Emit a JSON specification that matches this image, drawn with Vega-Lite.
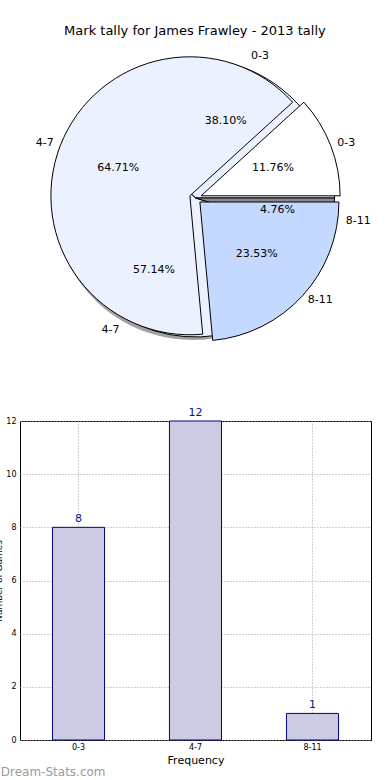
{
  "$schema": "https://vega.github.io/schema/vega-lite/v6.json",
  "padding": {"left": -6, "top": 25, "right": 0, "bottom": 0},
  "config": {
    "font": "DejaVu Sans",
    "view": {"stroke": "black"},
    "title": {"font": "DejaVu Sans", "fontWeight": "normal", "color": "black"}
  },
  "title": {"text": "Mark tally for James Frawley - 2013 tally", "fontSize": 13, "anchor": "middle", "offset": 12, "dx": 12},
  "datasets": {
    "back": [
      {"label": "0-3", "pct": 38.10, "pctText": "38.10%", "idx": 0},
      {"label": "4-7", "pct": 57.14, "pctText": "57.14%", "idx": 1},
      {"label": "8-11", "pct": 4.76, "pctText": "4.76%", "idx": 2}
    ],
    "front": [
      {"label": "0-3", "pct": 11.76, "pctText": "11.76%", "idx": 0},
      {"label": "4-7", "pct": 64.71, "pctText": "64.71%", "idx": 1},
      {"label": "8-11", "pct": 23.53, "pctText": "23.53%", "idx": 2}
    ],
    "bars": [
      {"range": "0-3", "games": 8},
      {"range": "4-7", "games": 12},
      {"range": "8-11", "games": 1}
    ]
  },
  "spacing": 63,
  "vconcat": [
    {
      "width": 351,
      "height": 290,
      "view": {"stroke": null},
      "layer": [
        {
          "data": {"name": "back"},
          "transform": [{"stack": "pct", "as": ["t0", "t1"], "sort": [{"field": "idx"}], "groupby": []}],
          "mark": {"type": "arc", "radius": 139, "fill": "#555555", "opacity": 0.55, "xOffset": -3, "yOffset": 3},
          "encoding": {
            "theta": {"field": "t0", "type": "quantitative", "scale": {"domain": [0, 100], "range": [7.853981634, 1.570796327]}},
            "theta2": {"field": "t1"}
          }
        },
        {
          "data": {"name": "back"},
          "transform": [{"stack": "pct", "as": ["t0", "t1"], "sort": [{"field": "idx"}], "groupby": []}],
          "mark": {"type": "arc", "radius": 139, "stroke": "black", "strokeWidth": 1},
          "encoding": {
            "theta": {"field": "t0", "type": "quantitative"},
            "theta2": {"field": "t1"},
            "fill": {"field": "label", "type": "nominal", "scale": {"domain": ["0-3", "4-7", "8-11"], "range": ["#ebf1fe", "#ebf1fe", "#8a8a8a"]}, "legend": null}
          }
        },
        {
          "data": {"name": "front"},
          "transform": [{"stack": "pct", "as": ["t0", "t1"], "sort": [{"field": "idx"}], "groupby": []}, {"filter": "datum.label == '0-3'"}],
          "mark": {"type": "arc", "radius": 139, "stroke": "black", "strokeWidth": 1, "fill": "#ffffff", "xOffset": 5.6, "yOffset": -2.2},
          "encoding": {
            "theta": {"field": "t0", "type": "quantitative"},
            "theta2": {"field": "t1"}
          }
        },
        {
          "data": {"name": "front"},
          "transform": [{"stack": "pct", "as": ["t0", "t1"], "sort": [{"field": "idx"}], "groupby": []}, {"filter": "datum.label == '4-7'"}],
          "mark": {"type": "arc", "radius": 139, "stroke": "black", "strokeWidth": 1, "fill": "#ebf1fe", "xOffset": -5.6, "yOffset": -2.2},
          "encoding": {
            "theta": {"field": "t0", "type": "quantitative"},
            "theta2": {"field": "t1"}
          }
        },
        {
          "data": {"name": "front"},
          "transform": [{"stack": "pct", "as": ["t0", "t1"], "sort": [{"field": "idx"}], "groupby": []}, {"filter": "datum.label == '8-11'"}],
          "mark": {"type": "arc", "radius": 139, "stroke": "black", "strokeWidth": 1, "fill": "#c5d8ff", "xOffset": 4.4, "yOffset": 4},
          "encoding": {
            "theta": {"field": "t0", "type": "quantitative"},
            "theta2": {"field": "t1"}
          }
        },
        {
          "data": {"name": "back"},
          "mark": {"type": "text", "radius": 83, "fontSize": 11, "color": "black", "baseline": "middle", "align": "center"},
          "encoding": {
            "theta": {"field": "pct", "type": "quantitative", "stack": true},
            "order": {"field": "idx"},
            "text": {"field": "pctText"}
          }
        },
        {
          "data": {"name": "front"},
          "mark": {"type": "text", "radius": 83, "fontSize": 11, "color": "black", "baseline": "middle", "align": "center"},
          "encoding": {
            "theta": {"field": "pct", "type": "quantitative", "stack": true},
            "order": {"field": "idx"},
            "text": {"field": "pctText"}
          }
        },
        {
          "data": {"name": "back"},
          "mark": {"type": "text", "radius": 152, "fontSize": 11, "color": "black", "baseline": "middle",
            "align": {"expr": "((datum.pct_start + datum.pct_end) / 2 > 25 && (datum.pct_start + datum.pct_end) / 2 < 75) ? 'right' : 'left'"}},
          "encoding": {
            "theta": {"field": "pct", "type": "quantitative", "stack": true},
            "order": {"field": "idx"},
            "text": {"field": "label"}
          }
        },
        {
          "data": {"name": "front"},
          "mark": {"type": "text", "radius": 152, "fontSize": 11, "color": "black", "baseline": "middle",
            "align": {"expr": "((datum.pct_start + datum.pct_end) / 2 > 25 && (datum.pct_start + datum.pct_end) / 2 < 75) ? 'right' : 'left'"}},
          "encoding": {
            "theta": {"field": "pct", "type": "quantitative", "stack": true},
            "order": {"field": "idx"},
            "text": {"field": "label"}
          }
        }
      ]
    },
    {
      "width": 351,
      "height": 319,
      "data": {"name": "bars"},
      "title": {"text": "Dream-Stats.com", "orient": "bottom", "anchor": "start", "frame": "bounds", "color": "#9a9a9a", "fontSize": 12, "offset": 2, "dx": 6},
      "encoding": {
        "x": {
          "field": "range", "type": "nominal", "sort": ["0-3", "4-7", "8-11"],
          "scale": {"paddingInner": 0, "paddingOuter": 0},
          "axis": {"title": "Frequency", "titleFontSize": 11, "titleFontWeight": "normal", "titlePadding": 3, "labelAngle": 0, "labelFontSize": 8, "labelColor": "black", "labelPadding": 3, "ticks": false, "domain": false, "grid": true, "bandPosition": 0.5, "gridDash": [1, 2], "gridColor": "#a0a0a0", "gridOpacity": 1}
        },
        "y": {
          "field": "games", "type": "quantitative",
          "scale": {"domain": [0, 12], "nice": false},
          "axis": {"title": "Number of Games", "titleFontSize": 9, "titleFontWeight": "normal", "titlePadding": 2, "values": [0, 2, 4, 6, 8, 10, 12], "labelFontSize": 8, "labelColor": "black", "labelPadding": 4, "ticks": false, "domain": false, "grid": true, "gridDash": [1, 2], "gridColor": "#a0a0a0", "gridOpacity": 1}
        }
      },
      "layer": [
        {
          "mark": {"type": "bar", "fill": "#cbcce4", "stroke": "#000080", "strokeWidth": 1, "width": {"band": 0.445}}
        },
        {
          "mark": {"type": "text", "baseline": "bottom", "dy": -3, "fontSize": 11, "color": "#10108f"},
          "encoding": {"text": {"field": "games"}}
        }
      ]
    }
  ]
}
